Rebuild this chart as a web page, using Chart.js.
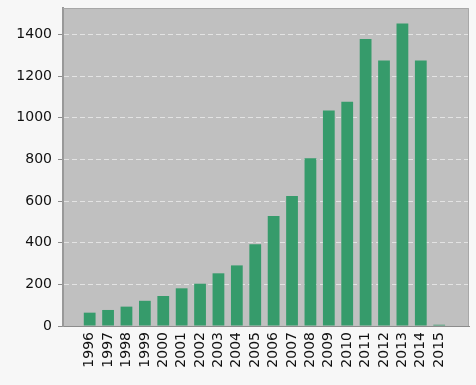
<!DOCTYPE html>
<html>
<head>
<meta charset="utf-8">
<script src="https://cdn.jsdelivr.net/npm/chart.js@4/dist/chart.umd.min.js"></script>
<style>
  html, body { margin: 0; padding: 0; background: #f7f7f7; }
  #wrap { width: 476px; height: 385px; }
</style>
</head>
<body>
<div id="wrap"><canvas id="c" width="476" height="385"></canvas></div>
<script>
/* counts per year */
const years = [1996, 1997, 1998, 1999, 2000, 2001, 2002, 2003, 2004, 2005,
               2006, 2007, 2008, 2009, 2010, 2011, 2012, 2013, 2014, 2015];
const counts = [64, 77, 93, 121, 144, 181, 203, 253, 291, 392,
                528, 624, 805, 1035, 1077, 1378, 1275, 1453, 1275, 6];
const yTicks = [0, 200, 400, 600, 800, 1000, 1200, 1400];

const font = { family: 'DejaVu Sans', size: 14 };

/* grey plot box + frame */
const plotBox = {
  id: 'plotBox',
  beforeDraw(chart) {
    const { ctx, chartArea: a } = chart;
    ctx.save();
    ctx.fillStyle = '#f7f7f7';
    ctx.fillRect(0, 0, chart.width, chart.height);
    ctx.fillStyle = '#c0c0c0';
    ctx.fillRect(a.left, a.top, a.right - a.left, a.bottom - a.top);
    ctx.restore();
  },
  afterDraw(chart) {
    const { ctx, chartArea: a } = chart;
    ctx.save();
    ctx.strokeStyle = '#a8a8a8';
    ctx.lineWidth = 1;
    ctx.beginPath();
    ctx.moveTo(a.left, a.top + 0.5);
    ctx.lineTo(a.right - 0.5, a.top + 0.5);
    ctx.lineTo(a.right - 0.5, a.bottom);
    ctx.stroke();
    ctx.restore();
  }
};

new Chart(document.getElementById('c').getContext('2d'), {
  type: 'bar',
  data: {
    datasets: [{
      data: years.map((y, i) => ({ x: y, y: counts[i] })),
      backgroundColor: '#369b6b',
      borderWidth: 0,
      categoryPercentage: 1,
      barPercentage: 0.64
    }]
  },
  options: {
    responsive: false,
    animation: false,
    layout: { padding: { top: 8, right: 7, left: 0, bottom: 0 } },
    plugins: { legend: { display: false }, tooltip: { enabled: false } },
    scales: {
      x: {
        type: 'linear',
        offset: false,
        min: 1994.55,
        max: 2016.62,
        afterFit: s => { s.height = 59; s.paddingLeft = 0; s.paddingRight = 0; },
        grid: { display: false, drawTicks: false },
        border: { display: true, color: '#8c8c8c' },
        ticks: {
          stepSize: 1,
          includeBounds: false,
          autoSkip: false,
          minRotation: 90,
          maxRotation: 90,
          padding: 6,
          color: '#111',
          font: font,
          callback: v => years.includes(v) ? String(v) : null
        }
      },
      y: {
        min: 0,
        max: 1527,
        afterFit: s => { s.width = 63; s.paddingTop = 0; s.paddingBottom = 0; },
        afterBuildTicks: s => { s.ticks = yTicks.map(v => ({ value: v })); },
        grid: {
          color: 'rgba(255,255,255,0.55)',
          tickColor: '#8c8c8c',
          tickLength: 5,
          drawTicks: true
        },
        border: { display: true, color: '#999', width: 2, dash: [5, 3] },
        ticks: { padding: 6, color: '#111', font: font, callback: v => String(v) }
      }
    }
  },
  plugins: [plotBox]
});
</script>
</body>
</html>
